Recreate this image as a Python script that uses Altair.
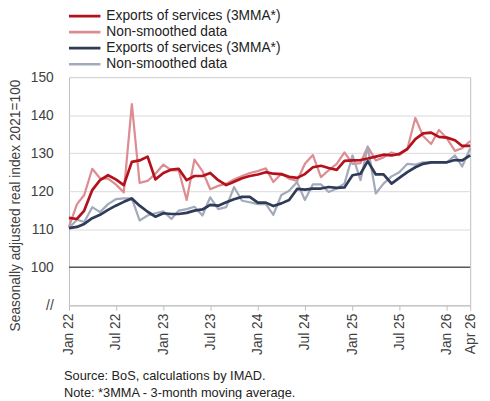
import altair as alt
import pandas as pd

# ---- data (Jan 2022 .. Apr 2026, monthly) ----
start_year, start_month, n_months = 2022, 1, 52

red_smoothed = [113.0, 112.7, 114.9, 120.3, 122.9, 124.2, 123.1, 121.6, 127.7, 128.1,
                129.1, 123.1, 124.8, 125.7, 125.9, 122.9, 124.0, 124.0, 124.8, 122.9,
                121.6, 122.5, 123.4, 124.0, 124.4, 125.0, 124.6, 124.5, 123.8, 123.5,
                124.5, 126.3, 126.7, 126.1, 125.6, 128.0, 128.1, 128.2, 128.6, 129.1,
                129.6, 129.4, 129.8, 131.1, 133.7, 135.2, 135.4, 134.3, 134.1, 133.4,
                131.9, 131.9]
red_raw = [110.6, 116.6, 119.0, 125.9, 123.4, 123.3, 121.8, 119.7, 142.9, 122.2,
           122.7, 124.6, 127.0, 125.5, 125.5, 117.7, 128.3, 125.3, 120.5, 121.4,
           122.0, 123.1, 124.0, 124.8, 125.3, 126.0, 122.4, 124.6, 123.3, 122.7,
           127.2, 129.5, 123.7, 125.5, 127.2, 130.2, 127.2, 127.4, 131.7, 128.1,
           128.9, 130.2, 129.5, 131.1, 139.3, 134.5, 132.4, 136.1, 133.9, 130.6,
           131.3, 133.2]
blue_smoothed = [110.3, 110.6, 111.4, 112.9, 113.8, 115.1, 116.2, 117.2, 118.1, 116.2,
                 114.6, 113.3, 114.2, 114.0, 114.0, 114.3, 114.9, 115.2, 116.4, 116.2,
                 117.1, 117.9, 118.5, 118.5, 117.0, 117.0, 116.1, 116.8, 117.7, 120.6,
                 120.4, 120.7, 120.7, 121.1, 120.9, 121.0, 124.2, 124.6, 127.9, 124.4,
                 124.4, 122.0, 123.5, 125.0, 126.3, 127.2, 127.6, 127.6, 127.6, 128.2,
                 128.1, 129.4]
blue_raw = [110.3, 112.5, 111.9, 115.8, 114.5, 116.6, 117.9, 118.1, 118.1, 112.3,
            113.6, 114.2, 114.7, 112.7, 114.9, 115.3, 115.9, 113.6, 118.4, 115.3,
            115.8, 121.1, 117.5, 117.1, 116.6, 116.6, 113.8, 119.0, 120.1, 122.4,
            117.7, 121.8, 121.8, 119.8, 120.7, 122.0, 129.4, 122.9, 131.7, 119.4,
            122.0, 123.9, 125.0, 127.2, 127.0, 127.6, 127.6, 127.6, 127.6, 129.4,
            126.5, 131.3]

series_keys = ["Exports of services (3MMA*)#1", "Non-smoothed data#1",
               "Exports of services (3MMA*)#2", "Non-smoothed data#2"]
series_colors = ["#B3111C", "#DD8C92", "#2F3B59", "#A2AABB"]

tick_dates = [(2022, 1), (2022, 7), (2023, 1), (2023, 7), (2024, 1), (2024, 7),
              (2025, 1), (2025, 7), (2026, 1), (2026, 4)]
y_ticks = [90, 100, 110, 120, 130, 140, 150]
baseline_value = [100]

y_title = "Seasonally adjusted real index 2021=100"
footnotes = ["Source: BoS, calculations by IMAD.",
             "Note: *3MMA - 3-month moving average."]

# ---- build the table ----
dates = []
for m in range(n_months):
    yy = start_year + (start_month - 1 + m) // 12
    mm = (start_month - 1 + m) % 12 + 1
    dates.append(f"{yy}-{mm:02d}-01")

rows = []
for key, vals in zip(series_keys, [red_smoothed, red_raw, blue_smoothed, blue_raw]):
    for d, v in zip(dates, vals):
        rows.append({"date": d, "value": v, "series": key,
                     "kind": "raw" if key.startswith("Non") else "smooth"})
df = pd.DataFrame(rows)

FONT = "Liberation Sans"

color_enc = alt.Color(
    "series:N",
    scale=alt.Scale(domain=series_keys, range=series_colors),
    sort=series_keys,
    legend=alt.Legend(
        title=None, orient="none", legendX=9, legendY=-69,
        symbolType="M-3.2,0H3.2", symbolSize=100, symbolStrokeWidth=2.75,
        labelFontSize=14, labelFont=FONT, labelColor="#222222",
        labelExpr="split(datum.label, '#')[0]", rowPadding=2.3,
        labelOffset=15, labelLimit=400,
    ),
)

x_enc = alt.X(
    "date:T",
    scale=alt.Scale(type="utc",
                    domain=[alt.DateTime(year=2022, month=1, date=1, utc=True),
                            alt.DateTime(year=2026, month=4, date=1, utc=True)]),
    axis=alt.Axis(
        title=None,
        values=[alt.DateTime(year=y, month=m, date=1, utc=True) for y, m in tick_dates],
        labelExpr="utcFormat(datum.value, '%b %y')",
        labelAngle=270, labelAlign="right", labelBaseline="middle",
        labelFontSize=14, labelFont=FONT, labelColor="#404040",
        labelPadding=3, labelOverlap=False, labelFlush=False,
        ticks=True, tickSize=5, tickColor="#BFBFBF",
        domain=True, domainColor="#BFBFBF", grid=False,
    ),
)

y_enc = alt.Y(
    "value:Q",
    scale=alt.Scale(domain=[90, 150], nice=False, zero=False),
    axis=alt.Axis(
        title=y_title, values=y_ticks,
        labelExpr="datum.value == 90 ? '//' : datum.label",
        labelFontSize=14, labelFont=FONT, labelColor="#404040",
        labelPadding=16, ticks=False, domain=False,
        grid=True, gridColor="#D9D9D9", gridWidth=1,
        titleFontSize=14, titleFont=FONT, titleColor="#404040",
        titleFontWeight="normal", titleAngle=270, titleX=-54, titleY=130,
        titleAlign="center", titleBaseline="middle",
    ),
)

rule = alt.Chart(pd.DataFrame({"value": baseline_value})).mark_rule(
    color="#595959", strokeWidth=1.5
).encode(y=y_enc)

raw = alt.Chart(df).transform_filter("datum.kind == 'raw'").mark_line(
    strokeWidth=2.25, strokeJoin="round"
).encode(x=x_enc, y=y_enc, color=color_enc)

smooth = alt.Chart(df).transform_filter("datum.kind == 'smooth'").mark_line(
    strokeWidth=2.75, strokeJoin="round"
).encode(x=x_enc, y=y_enc, color=color_enc)

chart = alt.layer(rule, raw, smooth).properties(
    width=408, height=232,
    autosize=alt.AutoSizeParams(type="none"),
    padding={"left": 62, "top": 67, "right": 12, "bottom": 92},
    title=alt.TitleParams(
        text=footnotes, orient="bottom", anchor="start", frame="group",
        fontSize=13, font=FONT, fontWeight="normal", color="#222222",
        lineHeight=17, dx=-5, offset=16,
    ),
).configure_view(stroke="#BFBFBF", strokeWidth=1)

chart.save("out.html", embed_options={"renderer": "svg", "actions": False})
